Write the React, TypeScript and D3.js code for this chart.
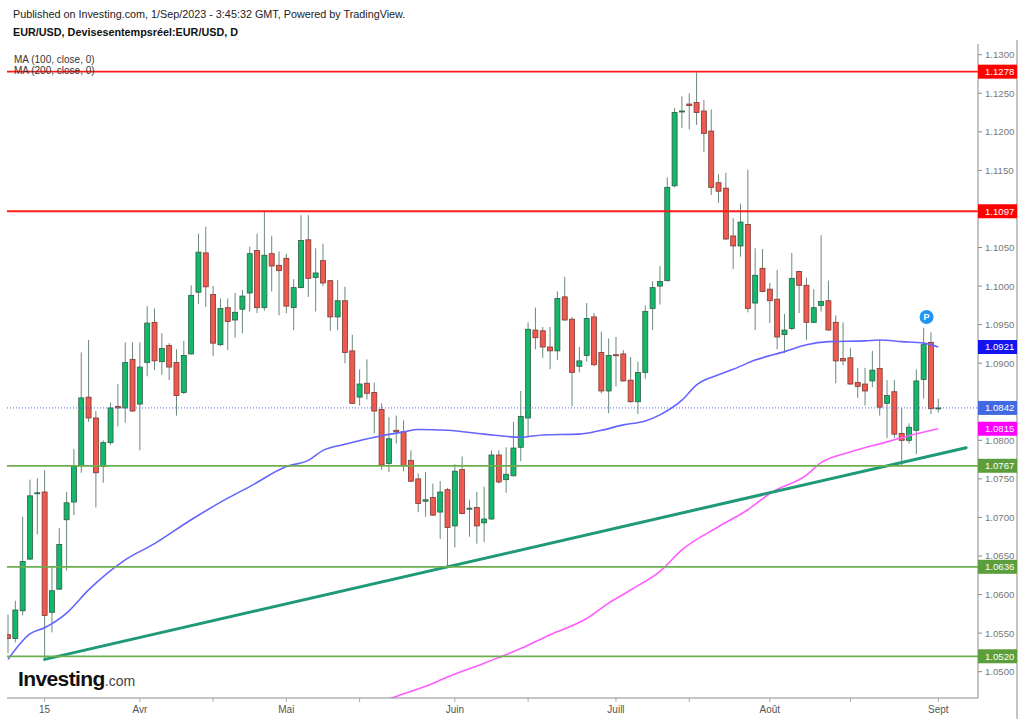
import React, { useEffect, useRef } from 'react'

import * as d3 from 'd3'

// Daily EUR/USD candles, 8 Mar 2023 -> 1 Sep 2023 (index = trading day)
const opens = [
  1.0548, 1.0543, 1.0579, 1.0646, 1.0731, 1.0733, 1.0577, 1.0607, 1.0697, 1.0720,
  1.0767, 1.0856, 1.0829, 1.0766, 1.0797, 1.0844, 1.0842, 1.0905, 1.0847, 1.0901,
  1.0953, 1.0902, 1.0923, 1.0901, 1.0862, 1.0912, 1.0992, 1.1043, 1.0989, 1.0924,
  1.0972, 1.0956, 1.0970, 1.0991, 1.1046, 1.0972, 1.1042, 1.1027, 1.1036, 1.0972,
  1.0998, 1.1060, 1.1011, 1.1033, 1.1007, 1.0960, 1.0981, 1.0916, 1.0856, 1.0874,
  1.0862, 1.0840, 1.0770, 1.0813, 1.0811, 1.0774, 1.0750, 1.0721, 1.0726, 1.0707,
  1.0736, 1.0689, 1.0762, 1.0711, 1.0713, 1.0693, 1.0698, 1.0781, 1.0749, 1.0754,
  1.0791, 1.0829, 1.0943, 1.0942, 1.0921, 1.0916, 1.0986, 1.0957, 1.0896, 1.0910,
  1.0960, 1.0914, 1.0864, 1.0911, 1.0912, 1.0878, 1.0850, 1.0888, 1.0971, 1.1000,
  1.1007, 1.1130, 1.1226, 1.1236, 1.1238, 1.1227, 1.1201, 1.1134, 1.1127, 1.1065,
  1.1052, 1.1080, 1.0978, 1.1023, 1.0996, 1.0983, 1.0937, 1.0945, 1.1019, 1.1001,
  1.0953, 1.0975, 1.0981, 1.0953, 1.0906, 1.0907, 1.0875, 1.0873, 1.0877, 1.0893,
  1.0848, 1.0863, 1.0809, 1.0800, 1.0813, 1.0879, 1.0927, 1.0841,
]
const highs = [
  1.0574, 1.0592, 1.0701, 1.0749, 1.0751, 1.0761, 1.0636, 1.0686, 1.0733, 1.0789,
  1.0914, 1.0930, 1.0838, 1.0800, 1.0849, 1.0873, 1.0927, 1.0927, 1.0927, 1.0974,
  1.0971, 1.0939, 1.0926, 1.0918, 1.0929, 1.1001, 1.1068, 1.1077, 1.1000, 1.0984,
  1.0984, 1.0991, 1.0995, 1.1051, 1.1068, 1.1096, 1.1065, 1.1045, 1.1042, 1.1009,
  1.1092, 1.1092, 1.1049, 1.1055, 1.1008, 1.1008, 1.0999, 1.0937, 1.0892, 1.0905,
  1.0875, 1.0848, 1.0830, 1.0832, 1.0826, 1.0787, 1.0757, 1.0759, 1.0744, 1.0747,
  1.0738, 1.0769, 1.0779, 1.0723, 1.0733, 1.0740, 1.0787, 1.0787, 1.0791, 1.0824,
  1.0864, 1.0953, 1.0972, 1.0947, 1.0947, 1.0993, 1.1012, 1.0960, 1.0921, 1.0978,
  1.0965, 1.0941, 1.0932, 1.0934, 1.0917, 1.0908, 1.0902, 1.0975, 1.1006, 1.1026,
  1.1141, 1.1231, 1.1246, 1.1250, 1.1277, 1.1241, 1.1229, 1.1145, 1.1147, 1.1088,
  1.1107, 1.1151, 1.1049, 1.1048, 1.1004, 1.1021, 1.0964, 1.1043, 1.1020, 1.1011,
  1.0996, 1.1066, 1.1007, 1.0962, 1.0953, 1.0920, 1.0894, 1.0894, 1.0916, 1.0930,
  1.0878, 1.0878, 1.0842, 1.0822, 1.0892, 1.0946, 1.0940, 1.0854,
]
const lows = [
  1.0524, 1.0538, 1.0573, 1.0645, 1.0678, 1.0515, 1.0551, 1.0606, 1.0631, 1.0703,
  1.0758, 1.0824, 1.0713, 1.0745, 1.0794, 1.0818, 1.0823, 1.0837, 1.0787, 1.0883,
  1.0891, 1.0885, 1.0878, 1.0832, 1.0860, 1.0911, 1.0977, 1.0973, 1.0909, 1.0922,
  1.0917, 1.0933, 1.0939, 1.0967, 1.0965, 1.0968, 1.0993, 1.0962, 1.0965, 1.0943,
  1.0997, 1.0986, 1.0967, 1.1000, 1.0942, 1.0943, 1.0900, 1.0847, 1.0845, 1.0853,
  1.0809, 1.0762, 1.0759, 1.0796, 1.0760, 1.0746, 1.0707, 1.0701, 1.0702, 1.0672,
  1.0635, 1.0661, 1.0704, 1.0675, 1.0666, 1.0668, 1.0697, 1.0744, 1.0732, 1.0753,
  1.0773, 1.0805, 1.0918, 1.0907, 1.0892, 1.0904, 1.0955, 1.0844, 1.0888, 1.0902,
  1.0896, 1.0861, 1.0835, 1.0870, 1.0876, 1.0849, 1.0834, 1.0880, 1.0943, 1.0976,
  1.1006, 1.1128, 1.1205, 1.1203, 1.1209, 1.1174, 1.1118, 1.1108, 1.1060, 1.1022,
  1.1038, 1.0966, 1.0943, 1.0992, 1.0952, 1.0918, 1.0913, 1.0943, 1.0965, 1.0930,
  1.0952, 1.0967, 1.0942, 1.0874, 1.0897, 1.0872, 1.0855, 1.0845, 1.0869, 1.0832,
  1.0803, 1.0803, 1.0767, 1.0796, 1.0782, 1.0854, 1.0834, 1.0836,
]
const closes = [
  1.0543, 1.0580, 1.0643, 1.0728, 1.0732, 1.0573, 1.0605, 1.0665, 1.0719, 1.0766,
  1.0855, 1.0829, 1.0758, 1.0797, 1.0842, 1.0842, 1.0901, 1.0838, 1.0895, 1.0952,
  1.0903, 1.0919, 1.0895, 1.0858, 1.0910, 1.0988, 1.1044, 1.0999, 1.0926, 1.0971,
  1.0954, 1.0966, 1.0987, 1.1042, 1.0972, 1.1040, 1.1026, 1.1020, 1.0974, 1.0998,
  1.1059, 1.1010, 1.1017, 1.1004, 1.0960, 1.0981, 1.0914, 1.0848, 1.0873, 1.0861,
  1.0838, 1.0768, 1.0802, 1.0811, 1.0767, 1.0747, 1.0718, 1.0723, 1.0703, 1.0733,
  1.0687, 1.0760, 1.0705, 1.0712, 1.0689, 1.0698, 1.0781, 1.0746, 1.0756, 1.0790,
  1.0831, 1.0944, 1.0933, 1.0921, 1.0916, 1.0984, 1.0956, 1.0888, 1.0903, 1.0958,
  1.0898, 1.0864, 1.0910, 1.0910, 1.0877, 1.0850, 1.0888, 1.0967, 1.0998, 1.1006,
  1.1128, 1.1225, 1.1227, 1.1234, 1.1225, 1.1198, 1.1128, 1.1123, 1.1061, 1.1052,
  1.1083, 1.0971, 1.1014, 1.0993, 1.0981, 1.0934, 1.0943, 1.1010, 1.1001, 1.0953,
  1.0972, 1.0980, 1.0943, 1.0903, 1.0903, 1.0873, 1.0870, 1.0864, 1.0891, 1.0843,
  1.0858, 1.0808, 1.0800, 1.0817, 1.0877, 1.0924, 1.0841, 1.0842,
]

// moving averages (trading-day index, value)
const ma100Idx = [0, 3, 5, 8, 11, 16, 20, 25, 30, 33, 38, 41, 43, 46, 51, 54, 56, 60, 65, 70, 73, 78, 81, 84, 87, 89, 92, 94, 97, 99, 102, 106, 109, 112, 117, 119, 122, 125, 127]
const ma100Val = [1.0516, 1.0549, 1.0557, 1.0576, 1.0606, 1.0645, 1.0666, 1.0697, 1.0725, 1.074, 1.0766, 1.0774, 1.0787, 1.0795, 1.0806, 1.0811, 1.0814, 1.0813, 1.0808, 1.0804, 1.0807, 1.0808, 1.0813, 1.082, 1.0825, 1.0833, 1.0852, 1.0872, 1.0885, 1.0892, 1.0904, 1.0915, 1.0924, 1.0928, 1.0929, 1.093, 1.0928, 1.0926, 1.0921]
const ma200Idx = [50, 53, 57, 60, 65, 70, 74, 79, 82, 85, 89, 92, 97, 101, 104, 109, 111, 115, 120, 123, 127]
const ma200Val = [1.0458, 1.0468, 1.0481, 1.0493, 1.0511, 1.053, 1.0548, 1.0569, 1.0589, 1.0606, 1.063, 1.0658, 1.0688, 1.071, 1.0731, 1.0755, 1.0771, 1.0785, 1.0798, 1.0806, 1.0815]

// drawn levels
const resistances = [1.1278, 1.1097]
const supports = [1.0767, 1.0636, 1.052]
const trendIdx = [5, 60]
const trendVal = [1.0516, 1.0636]
const trendEndIdx = 130.8
const lastPrice = 1.0842

const monthTickIdx = [5, 18, 38, 61, 83, 104, 127]
const monthLabels = ['15', 'Avr', 'Mai', 'Juin', 'Juill', 'Août', 'Sept']
const midTickIdx = [28, 48, 71, 93, 115]

const FONT = "'Liberation Sans', Arial, sans-serif"

const App: React.FC = () => {
  const ref = useRef<SVGSVGElement | null>(null)

  useEffect(() => {
    const svg = d3.select(ref.current)
    svg.selectAll('*').remove()

    const left = 7
    const right = 978
    const top = 44
    const bottom = 698

    const x = d3.scaleLinear().domain([0, opens.length - 1]).range([8, 938.3])
    const y = d3.scaleLinear().domain([1.05, 1.13]).range([671.7, 54.7])

    svg
      .append('defs')
      .append('clipPath')
      .attr('id', 'plot')
      .append('rect')
      .attr('x', left)
      .attr('y', top)
      .attr('width', right - left)
      .attr('height', bottom - top)

    const plot = svg.append('g').attr('clip-path', 'url(#plot)')

    // candles
    const data = opens.map((o, i) => ({ i, o, h: highs[i], l: lows[i], c: closes[i] }))
    const candle = plot.selectAll('.c').data(data).enter().append('g')
    candle
      .append('line')
      .attr('x1', (d) => x(d.i))
      .attr('x2', (d) => x(d.i))
      .attr('y1', (d) => y(d.h))
      .attr('y2', (d) => y(d.l))
      .attr('stroke', '#6b8a78')
      .attr('stroke-width', 1)
    candle
      .append('rect')
      .attr('x', (d) => x(d.i) - 2.5)
      .attr('width', 5)
      .attr('y', (d) => y(Math.max(d.o, d.c)))
      .attr('height', (d) => Math.max(1, Math.abs(y(d.o) - y(d.c))))
      .attr('fill', (d) => (d.c >= d.o ? '#14b86c' : '#f05a4e'))
      .attr('stroke', (d) => (d.c >= d.o ? '#2f5c43' : '#7a3a34'))
      .attr('stroke-width', 0.8)

    // moving averages
    const maLine = d3
      .line<number>()
      .x((d) => x(d))
      .curve(d3.curveMonotoneX)
    plot
      .append('path')
      .attr('d', maLine.y((_, k) => y(ma100Val[k]))(ma100Idx))
      .attr('fill', 'none')
      .attr('stroke', '#6464ff')
      .attr('stroke-width', 1.6)
    plot
      .append('path')
      .attr('d', maLine.y((_, k) => y(ma200Val[k]))(ma200Idx))
      .attr('fill', 'none')
      .attr('stroke', '#ff5cff')
      .attr('stroke-width', 1.6)

    // last price dotted line
    plot
      .append('line')
      .attr('x1', left)
      .attr('x2', right)
      .attr('y1', y(lastPrice))
      .attr('y2', y(lastPrice))
      .attr('stroke', '#4a6fe3')
      .attr('stroke-dasharray', '1,2')

    // trend line
    const slope = (trendVal[1] - trendVal[0]) / (trendIdx[1] - trendIdx[0])
    plot
      .append('line')
      .attr('x1', x(trendIdx[0]))
      .attr('y1', y(trendVal[0]))
      .attr('x2', x(trendEndIdx))
      .attr('y2', y(trendVal[0] + slope * (trendEndIdx - trendIdx[0])))
      .attr('stroke', '#1f9978')
      .attr('stroke-width', 3)
      .attr('stroke-linecap', 'round')

    // horizontal levels
    const levels = [
      ...resistances.map((p) => ({ p, c: '#ff1a1a' })),
      ...supports.map((p) => ({ p, c: '#6cae4e' })),
    ]
    svg
      .selectAll('.lvl')
      .data(levels)
      .enter()
      .append('line')
      .attr('x1', left)
      .attr('x2', right)
      .attr('y1', (d) => y(d.p))
      .attr('y2', (d) => y(d.p))
      .attr('stroke', (d) => d.c)
      .attr('stroke-width', 1.8)

    // price badges (defined first so covered ticks can be skipped)
    const badges = [
      ...resistances.map((p) => ({ p, c: '#ff0000' })),
      { p: ma100Val[ma100Val.length - 1], c: '#1414f0' },
      { p: lastPrice, c: '#4169e1' },
      { p: ma200Val[ma200Val.length - 1], c: '#ff00ff' },
      ...supports.map((p) => ({ p, c: '#5c9e3c' })),
    ]

    // price axis
    svg
      .append('line')
      .attr('x1', right)
      .attr('x2', right)
      .attr('y1', top)
      .attr('y2', bottom)
      .attr('stroke', '#8a8a8a')
    svg
      .append('line')
      .attr('x1', 1017)
      .attr('x2', 1017)
      .attr('y1', top - 4)
      .attr('y2', 719)
      .attr('stroke', '#8a8a8a')
    const ticks = y.ticks(16)
    const visibleTicks = ticks.filter((t) => badges.every((b) => Math.abs(y(t) - y(b.p)) > 9))
    svg
      .selectAll('.yt')
      .data(ticks)
      .enter()
      .append('line')
      .attr('x1', right)
      .attr('x2', right + 4)
      .attr('y1', (d) => y(d))
      .attr('y2', (d) => y(d))
      .attr('stroke', '#8a8a8a')
    svg
      .selectAll('.ytl')
      .data(visibleTicks)
      .enter()
      .append('text')
      .attr('x', right + 7)
      .attr('y', (d) => y(d))
      .attr('dy', '0.36em')
      .attr('font-family', FONT)
      .attr('font-size', 9.6)
      .attr('fill', '#777')
      .text((d) => d.toFixed(4))

    // time axis
    svg
      .append('line')
      .attr('x1', left)
      .attr('x2', right)
      .attr('y1', bottom)
      .attr('y2', bottom)
      .attr('stroke', '#8a8a8a')
    svg
      .selectAll('.xt')
      .data([...monthTickIdx, ...midTickIdx])
      .enter()
      .append('line')
      .attr('x1', (d) => x(d))
      .attr('x2', (d) => x(d))
      .attr('y1', bottom)
      .attr('y2', bottom + 4)
      .attr('stroke', '#aaa')
    svg
      .selectAll('.xl')
      .data(monthTickIdx)
      .enter()
      .append('text')
      .attr('x', (d) => x(d))
      .attr('y', 713)
      .attr('text-anchor', 'middle')
      .attr('font-family', FONT)
      .attr('font-size', 10)
      .attr('fill', '#555')
      .text((_, k) => monthLabels[k])

    const badge = svg.selectAll('.bd').data(badges).enter().append('g')
    badge
      .append('rect')
      .attr('x', right)
      .attr('y', (d) => y(d.p) - 7)
      .attr('width', 1017 - right)
      .attr('height', 14)
      .attr('fill', (d) => d.c)
    badge
      .append('text')
      .attr('x', right + 7)
      .attr('y', (d) => y(d.p))
      .attr('dy', '0.36em')
      .attr('font-family', FONT)
      .attr('font-size', 9.6)
      .attr('fill', '#fff')
      .text((d) => d.p.toFixed(4))

    // "P" marker
    const pm = svg.append('g').attr('transform', `translate(${x(125.4)},317)`)
    pm.append('circle').attr('r', 7).attr('fill', '#2196f3')
    pm.append('text')
      .attr('text-anchor', 'middle')
      .attr('dy', '0.36em')
      .attr('font-family', FONT)
      .attr('font-size', 9)
      .attr('font-weight', 'bold')
      .attr('fill', '#fff')
      .text('P')

    // header texts
    svg
      .append('text')
      .attr('x', 13)
      .attr('y', 18)
      .attr('font-family', FONT)
      .attr('font-size', 10.8)
      .attr('fill', '#222')
      .text('Published on Investing.com, 1/Sep/2023 - 3:45:32 GMT, Powered by TradingView.')
    svg
      .append('text')
      .attr('x', 13)
      .attr('y', 36)
      .attr('font-family', FONT)
      .attr('font-size', 10.8)
      .attr('font-weight', 'bold')
      .attr('fill', '#111')
      .text('EUR/USD, Devisesentempsréel:EUR/USD, D')
    ;['MA (100, close, 0)', 'MA (200, close, 0)'].forEach((t, k) => {
      svg
        .append('text')
        .attr('x', 14)
        .attr('y', 63 + k * 11)
        .attr('font-family', FONT)
        .attr('font-size', 10)
        .attr('fill', '#333')
        .text(t)
    })

    // logo
    const logo = svg.append('text').attr('x', 18).attr('y', 686)
    logo
      .append('tspan')
      .attr('font-family', "'Liberation Sans Narrow', 'Liberation Sans', Arial")
      .attr('font-size', 21)
      .attr('font-weight', 'bold')
      .attr('letter-spacing', -0.6)
      .attr('fill', '#111')
      .text('Investing')
    logo
      .append('tspan')
      .attr('font-family', "'Liberation Sans Narrow', 'Liberation Sans', Arial")
      .attr('font-size', 14)
      .attr('fill', '#444')
      .text('.com')
  }, [])

  return (
    <div style={{ position: 'absolute', left: 0, top: 0 }}>
      <svg ref={ref} width={1024} height={719} style={{ display: 'block', background: '#fff' }}></svg>
    </div>
  )
}

export default App
